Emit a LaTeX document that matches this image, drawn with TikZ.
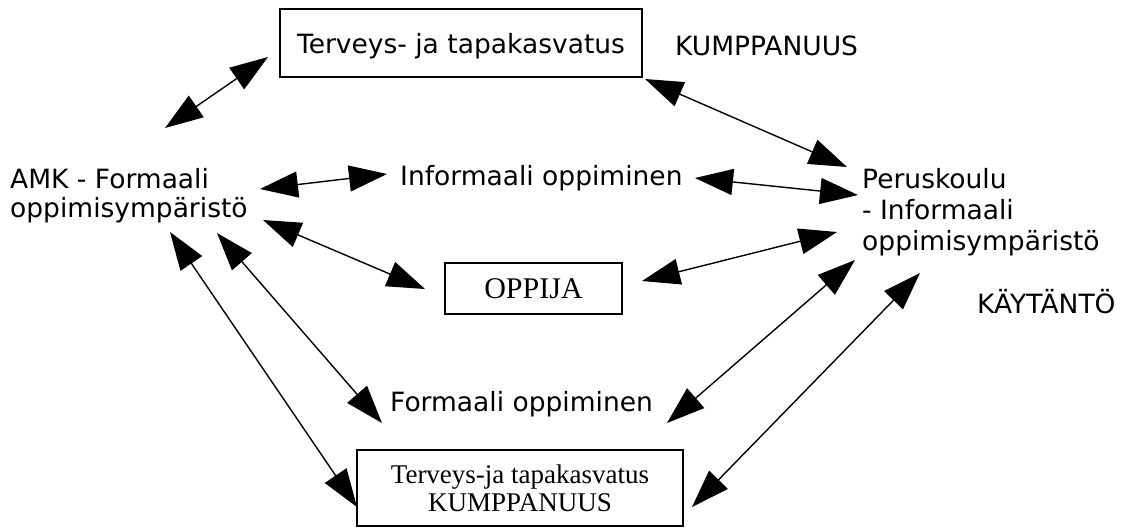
\documentclass[tikz,border=0pt]{standalone}
\usepackage{fontspec}
\setmainfont{Liberation Serif}
\newfontfamily\vfont{DejaVu Sans}
\usetikzlibrary{arrows.meta}
\tikzset{
  sans/.style={font=\vfont\fontsize{26.5}{29}\selectfont, inner sep=0pt},
  serif/.style={font=\rmfamily\fontsize{27}{28}\selectfont},
  boxnode/.style={draw, line width=1.5pt, inner sep=0pt},
  dbl/.style={line width=1.4pt, {Triangle[length=38pt,width=26pt]}-{Triangle[length=38pt,width=26pt]}}
}
\begin{document}
\begin{tikzpicture}[x=1pt,y=-1pt]
\useasboundingbox (0,0) rectangle (1123,528);

% boxes
\node[boxnode, sans, text depth=0pt, minimum width=362pt, minimum height=68pt] (top) at (461,43) {Terveys- ja tapakasvatus};
\node[boxnode, serif, font=\rmfamily\fontsize{30}{30}\selectfont, minimum width=177pt, minimum height=51pt] (oppija) at (533.5,288.5) {OPPIJA};
\node[boxnode, serif, align=center, minimum width=326pt, minimum height=76pt] (bot) at (520,488) {Terveys-ja tapakasvatus\\ KUMPPANUUS};

% texts
\node[sans, anchor=base west] (kump) at (675,55) {KUMPPANUUS};
\node[sans, anchor=base west] (kayt) at (977,313) {KÄYTÄNTÖ};
\node[sans, anchor=base west] (inf) at (400,185) {Informaali oppiminen};
\node[sans, anchor=base west] (form) at (390,411) {Formaali oppiminen};
\node[sans, align=left, anchor=west] (amk) at (10,195.5) {AMK - Formaali\\oppimisympäristö};
\node[sans, align=left, anchor=west, font=\vfont\fontsize{26.5}{31}\selectfont] (per) at (862,212) {Peruskoulu\\- Informaali\\oppimisympäristö};

% arrow end points
\coordinate (a1s) at (165,128); \coordinate (a1e) at (268,57);
\coordinate (a2s) at (645,79);  \coordinate (a2e) at (847,167);
\coordinate (a3s) at (260,189); \coordinate (a3e) at (387,174);
\coordinate (a4s) at (695,178); \coordinate (a4e) at (858,195);
\coordinate (a5s) at (263,220); \coordinate (a5e) at (425,289);
\coordinate (a6s) at (642,281); \coordinate (a6e) at (837,232);
\coordinate (a7s) at (217,233); \coordinate (a7e) at (382,423);
\coordinate (a8s) at (170,232); \coordinate (a8e) at (357,507);
\coordinate (a9s) at (855,260); \coordinate (a9e) at (667,423);
\coordinate (a10s) at (920,273); \coordinate (a10e) at (692,507);

\draw[dbl] (a1s) -- (a1e);
\draw[dbl] (a2s) -- (a2e);
\draw[dbl] (a3s) -- (a3e);
\draw[dbl] (a4s) -- (a4e);
\draw[dbl] (a5s) -- (a5e);
\draw[dbl] (a6s) -- (a6e);
\draw[dbl] (a7s) -- (a7e);
\draw[dbl] (a8s) -- (a8e);
\draw[dbl] (a9s) -- (a9e);
\draw[dbl] (a10s) -- (a10e);
\end{tikzpicture}
\end{document}
